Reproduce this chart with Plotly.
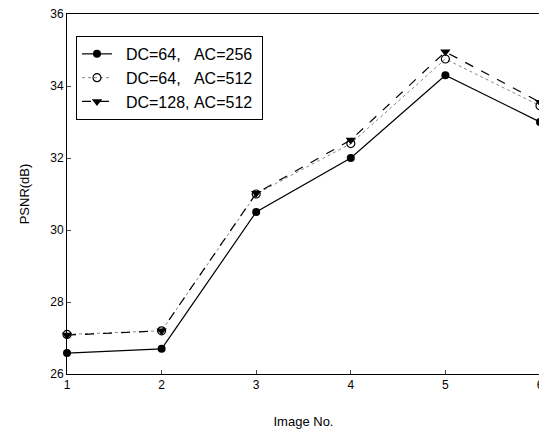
import plotly.graph_objects as go

images = [1, 2, 3, 4, 5, 6]
s1_name = "\u00a0\u00a0DC=64,\u00a0\u00a0\u00a0AC=256\u00a0"
s2_name = "\u00a0\u00a0DC=64,\u00a0\u00a0\u00a0AC=512\u00a0"
s3_name = "\u00a0\u00a0DC=128,\u00a0AC=512\u00a0"
psnr_dc64_ac256 = [26.58, 26.7, 30.5, 32.0, 34.3, 33.0]
psnr_dc64_ac512 = [27.1, 27.2, 31.0, 32.4, 34.75, 33.45]
psnr_dc128_ac512 = [27.08, 27.2, 31.02, 32.5, 34.95, 33.55]
y_ticks = [26, 28, 30, 32, 34, 36]

fig = go.Figure()
fig.add_trace(go.Scatter(x=images, y=psnr_dc64_ac256, name=s1_name, mode="lines+markers",
                         cliponaxis=False,
                         line=dict(color="black", width=1.2, dash="solid"),
                         marker=dict(symbol="circle", size=8, color="black")))
fig.add_trace(go.Scatter(x=images, y=psnr_dc64_ac512, name=s2_name, mode="lines+markers",
                         cliponaxis=False,
                         line=dict(color="#888888", width=1, dash="dot"),
                         marker=dict(symbol="circle-open", size=8, color="black", line=dict(width=1.2))))
fig.add_trace(go.Scatter(x=images, y=psnr_dc128_ac512, name=s3_name, mode="lines+markers",
                         cliponaxis=False,
                         line=dict(color="black", width=1.2, dash="dash"),
                         marker=dict(symbol="triangle-down", size=9, color="black")))

# page body adds an 8px offset; figure sized to fit the window
fig.update_layout(
    width=539, height=429,
    margin=dict(l=59, r=7, t=6, b=63),
    paper_bgcolor="white", plot_bgcolor="white",
    font=dict(family="Liberation Sans, Arial, sans-serif", color="black"),
    showlegend=True,
    legend=dict(x=0.019, y=0.939, xanchor="left", yanchor="top",
                bordercolor="black", borderwidth=1, bgcolor="white",
                font=dict(size=16), tracegroupgap=0),
)
fig.update_xaxes(range=[0.9999, 6.0001], tickvals=images, ticks="inside", ticklen=4,
                 showline=True, linecolor="black", linewidth=1, mirror=True,
                 showgrid=False, zeroline=False, tickfont=dict(size=12), automargin=False,
                 ticklabeloverflow="allow",
                 title=dict(text="Image No.", font=dict(size=13), standoff=25))
fig.update_yaxes(range=[25.9999, 36.0001], tickvals=y_ticks, ticks="inside", ticklen=4,
                 showline=True, linecolor="black", linewidth=1, mirror=True,
                 showgrid=False, zeroline=False, tickfont=dict(size=12), automargin=False,
                 ticklabeloverflow="allow",
                 title=dict(text="PSNR(dB)", font=dict(size=13), standoff=17))

fig.write_html("out.html")
